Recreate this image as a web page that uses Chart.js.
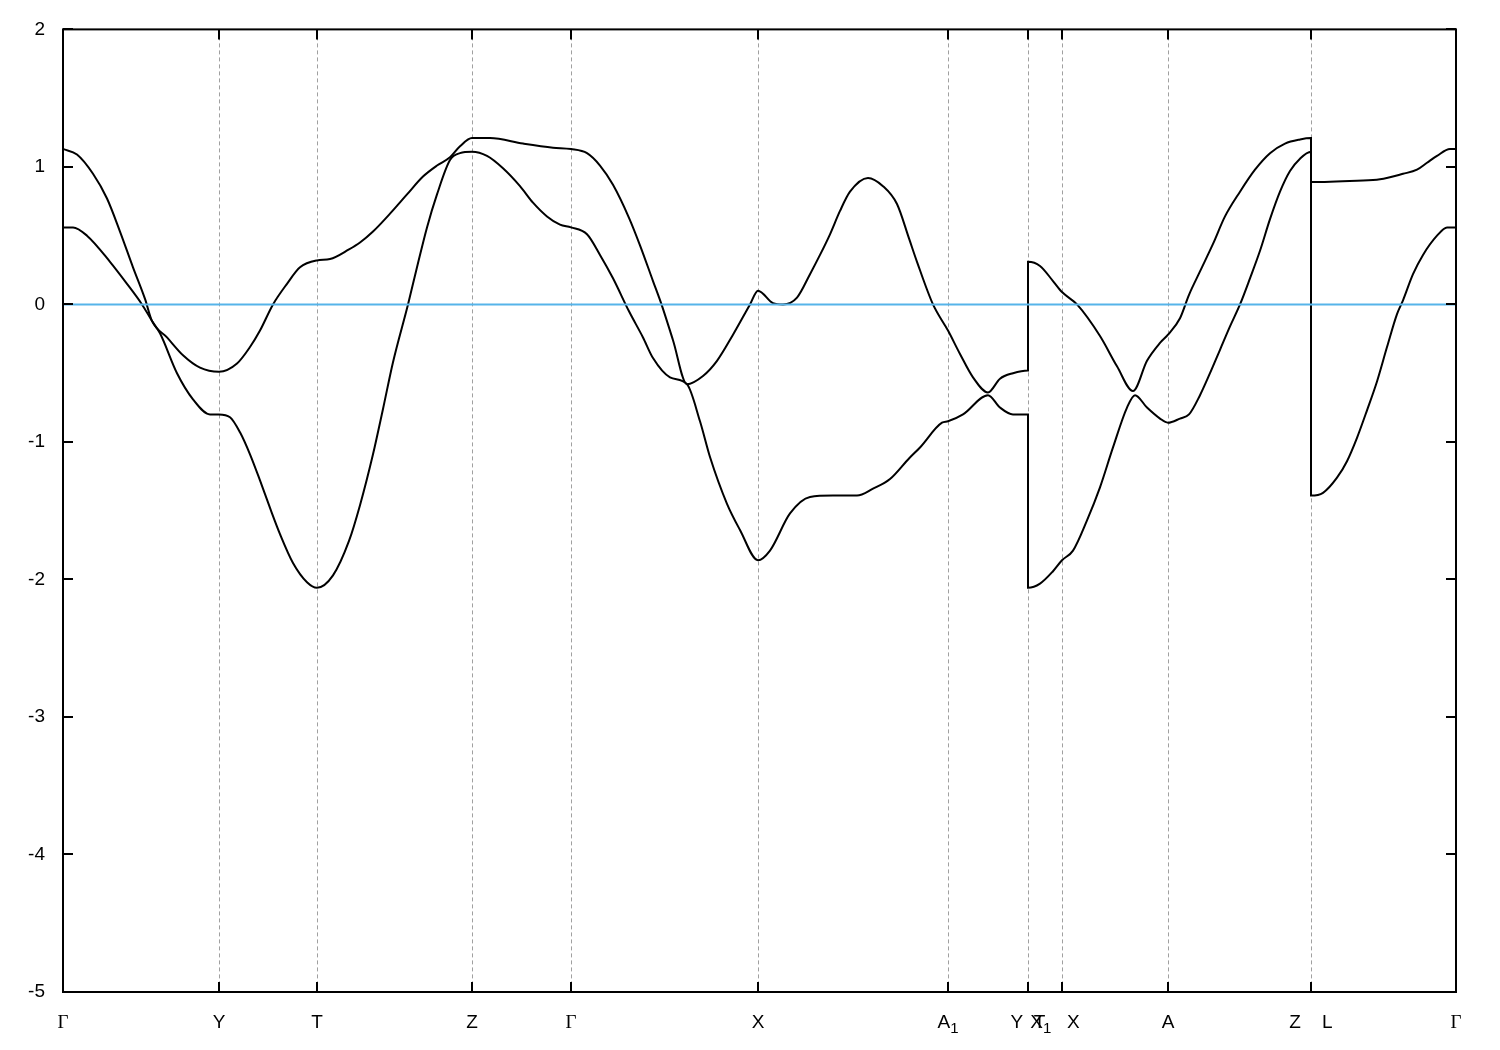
<!DOCTYPE html>
<html>
<head>
<meta charset="utf-8">
<title>Band structure</title>
<script src="https://cdn.jsdelivr.net/npm/chart.js@4.4.0/dist/chart.umd.min.js"></script>
<style>
  html, body { margin: 0; padding: 0; background: #ffffff; }
  #wrap { width: 1500px; height: 1050px; }
</style>
</head>
<body>
<div id="wrap"><canvas id="bands" width="1500" height="1050"></canvas></div>
<script>
// High-symmetry points along the k-path (path coordinate) and their labels
// "_" marks a subscript character, like gnuplot enhanced text
const kTicks = [0, 156, 254, 409, 508, 695, 885, 965, 999, 1105, 1248, 1393];
const kLabels = ['Γ', 'Y', 'T', 'Z', 'Γ', 'X', 'A_1', 'Y  T', 'X_1   X', 'A', 'Z    L', 'Γ'];

// Energy axis
const eMin = -5;
const eMax = 2;
const eStep = 1;

// Lower band (path coordinate, energy)
const kLower = [0, 10, 24, 47, 64, 79, 89, 97, 114, 130, 147, 156, 167, 177, 187, 197, 207, 217, 230, 244,
  254, 270, 286, 297, 310, 320, 330, 345, 354, 364, 374, 387, 397, 409, 424, 440, 457, 470, 484, 497,
  508, 524, 537, 550, 566, 580, 590, 607, 624, 637, 647, 664, 677, 695, 707, 727, 747, 770, 794, 810,
  827, 846, 857, 879, 885, 900, 925, 937, 950, 965, 965, 977, 990, 999, 1010, 1024, 1037, 1050, 1064, 1072,
  1084, 1097, 1105, 1117, 1126, 1137, 1147, 1157, 1167, 1177, 1187, 1197, 1207, 1217, 1227, 1237, 1248, 1248, 1260, 1274,
  1284, 1294, 1304, 1314, 1324, 1334, 1340, 1350, 1360, 1374, 1384, 1393];
const eLower = [0.56, 0.56, 0.50, 0.31, 0.15, 0.00, -0.12, -0.21, -0.50, -0.69, -0.80, -0.80, -0.82, -0.93, -1.09, -1.28, -1.48, -1.67, -1.88, -2.02,
  -2.06, -1.97, -1.72, -1.46, -1.09, -0.76, -0.42, 0.00, 0.27, 0.56, 0.80, 1.05, 1.10, 1.11, 1.08, 0.99, 0.86, 0.74, 0.64, 0.58,
  0.56, 0.51, 0.36, 0.19, -0.05, -0.24, -0.39, -0.53, -0.58, -0.85, -1.11, -1.45, -1.64, -1.86, -1.79, -1.52, -1.40, -1.39, -1.39, -1.34,
  -1.27, -1.12, -1.04, -0.86, -0.85, -0.80, -0.66, -0.75, -0.80, -0.80, -2.06, -2.03, -1.94, -1.86, -1.79, -1.57, -1.33, -1.04, -0.75, -0.66,
  -0.75, -0.83, -0.86, -0.83, -0.80, -0.66, -0.50, -0.33, -0.16, 0.00, 0.19, 0.39, 0.62, 0.82, 0.97, 1.06, 1.11, -1.39, -1.37, -1.26,
  -1.14, -0.97, -0.77, -0.56, -0.31, -0.07, 0.03, 0.22, 0.36, 0.50, 0.56, 0.56];

// Upper band (path coordinate, energy)
const kUpper = [0, 14, 30, 44, 57, 70, 82, 89, 104, 120, 137, 156, 174, 187, 197, 210, 224, 237, 254, 267,
  286, 297, 310, 327, 344, 360, 374, 387, 397, 409, 427, 460, 490, 508, 524, 537, 550, 566, 577, 590,
  599, 610, 624, 640, 654, 670, 687, 695, 710, 720, 734, 747, 757, 767, 777, 787, 805, 820, 834, 846,
  854, 870, 885, 897, 910, 925, 937, 950, 965, 965, 977, 990, 999, 1014, 1037, 1054, 1070, 1084, 1097, 1105,
  1117, 1126, 1137, 1150, 1162, 1177, 1192, 1207, 1222, 1237, 1248, 1248, 1294, 1317, 1340, 1354, 1364, 1374, 1387, 1393];
const eUpper = [1.13, 1.09, 0.95, 0.77, 0.53, 0.27, 0.04, -0.12, -0.24, -0.37, -0.46, -0.49, -0.43, -0.31, -0.19, 0.00, 0.15, 0.27, 0.32, 0.33,
  0.40, 0.45, 0.53, 0.66, 0.80, 0.93, 1.01, 1.07, 1.15, 1.21, 1.21, 1.17, 1.14, 1.13, 1.10, 1.01, 0.87, 0.63, 0.43, 0.17,
  -0.01, -0.26, -0.58, -0.52, -0.41, -0.22, 0.00, 0.10, 0.01, 0.00, 0.05, 0.22, 0.36, 0.51, 0.68, 0.82, 0.92, 0.86, 0.73, 0.48,
  0.31, 0.00, -0.19, -0.36, -0.53, -0.64, -0.54, -0.50, -0.48, 0.31, 0.28, 0.17, 0.09, 0.00, -0.23, -0.45, -0.63, -0.41, -0.28, -0.22,
  -0.10, 0.07, 0.24, 0.44, 0.64, 0.82, 0.98, 1.10, 1.17, 1.20, 1.21, 0.89, 0.90, 0.91, 0.95, 0.98, 1.03, 1.08, 1.13, 1.13];

// Fermi level reference line
const kFermi = [0, 1393];
const eFermi = [0, 0];

const textFont = '"Liberation Sans", Arial, sans-serif';
const greekFont = '"Liberation Serif", serif';

function toPoints(ks, es) {
  return ks.map((k, i) => ({ x: k, y: es[i] }));
}

// Draw label text with gnuplot-like subscripts ("A_1")
function drawEnhanced(ctx, text, cx, baseline, shift) {
  const parts = [];
  for (let i = 0; i < text.length; i++) {
    const ch = text[i];
    if (ch === '_' && i + 1 < text.length) {
      parts.push({ t: text[i + 1], sub: true });
      i++;
    } else {
      parts.push({ t: ch, sub: false });
    }
  }
  const fontFor = p => {
    const greek = /[\u0370-\u03ff]/.test(p.t);
    const size = p.sub ? 15 : 19;
    return size + 'px ' + (greek ? greekFont : textFont);
  };
  let width = 0;
  parts.forEach(p => { ctx.font = fontFor(p); p.w = ctx.measureText(p.t).width; width += p.w; });
  let x = cx - width / 2 + (shift || 0);
  ctx.textAlign = 'left';
  ctx.textBaseline = 'alphabetic';
  parts.forEach(p => {
    ctx.font = fontFor(p);
    ctx.fillText(p.t, x, baseline + (p.sub ? 5 : 0));
    x += p.w;
  });
}

// Frame, inward tick marks, dotted k-point lines and k labels
const framePlugin = {
  id: 'gnuplotFrame',
  beforeDatasetsDraw(chart) {
    const { ctx, chartArea: a, scales: { x } } = chart;
    ctx.save();
    ctx.strokeStyle = '#a0a0a0';
    ctx.lineWidth = 1;
    ctx.setLineDash([4, 3]);
    kTicks.forEach(k => {
      const px = Math.round(x.getPixelForValue(k)) + 0.5;
      ctx.beginPath();
      ctx.moveTo(px, a.top);
      ctx.lineTo(px, a.bottom);
      ctx.stroke();
    });
    ctx.restore();
  },
  afterDraw(chart) {
    const { ctx, chartArea: a, scales: { x, y } } = chart;
    const tick = 10;
    ctx.save();
    ctx.strokeStyle = '#000';
    ctx.lineWidth = 2;
    ctx.setLineDash([]);

    // y ticks on both sides
    for (let v = eMin; v <= eMax; v += eStep) {
      const py = Math.round(y.getPixelForValue(v));
      ctx.beginPath();
      ctx.moveTo(a.left, py); ctx.lineTo(a.left + tick, py);
      ctx.moveTo(a.right, py); ctx.lineTo(a.right - tick, py);
      ctx.stroke();
    }
    // k ticks on bottom and top
    kTicks.forEach(k => {
      const px = Math.round(x.getPixelForValue(k));
      ctx.beginPath();
      ctx.moveTo(px, a.bottom); ctx.lineTo(px, a.bottom - tick);
      ctx.moveTo(px, a.top); ctx.lineTo(px, a.top + tick);
      ctx.stroke();
    });
    ctx.strokeRect(a.left, a.top, a.right - a.left, a.bottom - a.top);

    // k-point labels
    ctx.fillStyle = '#000';
    const shifts = { 8: -7 };
    kTicks.forEach((k, i) => {
      drawEnhanced(ctx, kLabels[i], x.getPixelForValue(k), a.bottom + 36, shifts[i]);
    });
    ctx.restore();
  }
};

const bandStyle = {
  borderColor: '#000000',
  borderWidth: 2,
  pointRadius: 0,
  fill: false,
  cubicInterpolationMode: 'monotone',
  order: 1
};

new Chart(document.getElementById('bands'), {
  type: 'line',
  data: {
    datasets: [
      { label: 'E_F', data: toPoints(kFermi, eFermi), borderColor: '#56b4e9', borderWidth: 2, pointRadius: 0, order: 0 },
      Object.assign({ label: 'band 1', data: toPoints(kLower, eLower) }, bandStyle),
      Object.assign({ label: 'band 2', data: toPoints(kUpper, eUpper) }, bandStyle)
    ]
  },
  options: {
    responsive: false,
    animation: false,
    devicePixelRatio: 1,
    layout: { padding: { top: 28, right: 44, bottom: 0, left: 0 } },
    plugins: {
      legend: { display: false },
      tooltip: { enabled: false }
    },
    scales: {
      x: {
        type: 'linear',
        min: kTicks[0],
        max: kTicks[kTicks.length - 1],
        afterBuildTicks: scale => { scale.ticks = kTicks.map(v => ({ value: v })); },
        afterFit: scale => { scale.height = 58; },
        grid: { display: false, drawTicks: false },
        border: { display: false },
        ticks: { display: false }
      },
      y: {
        min: eMin,
        max: eMax,
        afterFit: scale => { scale.width = 63; },
        grid: { display: false, drawTicks: false },
        border: { display: false },
        ticks: {
          stepSize: eStep,
          color: '#000000',
          padding: 18,
          font: { family: textFont, size: 19 }
        }
      }
    }
  },
  plugins: [framePlugin]
});
</script>
</body>
</html>
